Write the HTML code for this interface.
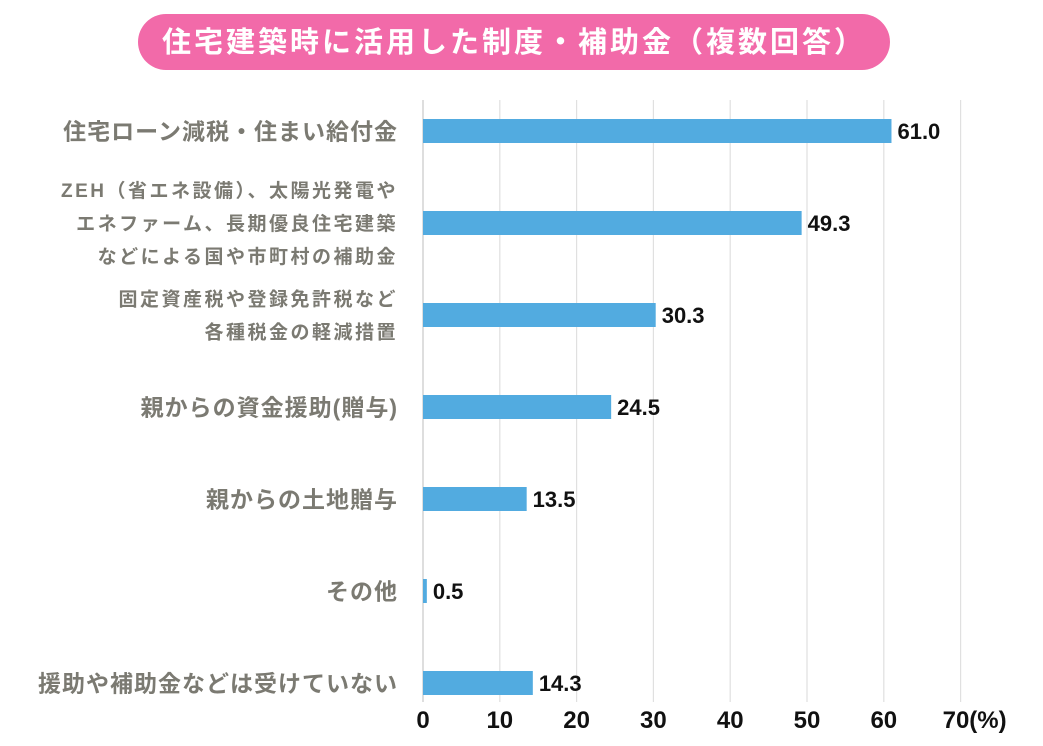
<!DOCTYPE html>
<html><head><meta charset="utf-8"><style>
body{margin:0;width:1043px;height:741px;background:#fff;overflow:hidden;font-family:"Liberation Sans","Noto Sans CJK JP",sans-serif;}
</style></head><body>
<svg width="1043" height="741" xmlns="http://www.w3.org/2000/svg">
<rect x="138" y="14" width="752" height="56" rx="28" fill="#f26aa9"/>
<text x="514" y="52" text-anchor="middle" font-size="29" letter-spacing="3" font-weight="bold" fill="#fff" font-family="Liberation Sans,Noto Sans CJK JP,sans-serif">住宅建築時に活用した制度・補助金（複数回答）</text>
<g id="grid"></g><g id="bars"></g><g id="labels"></g><g id="ticks"></g>
</svg>
<script>
const categories=[["住宅ローン減税・住まい給付金"],["ZEH（省エネ設備）、太陽光発電や","エネファーム、長期優良住宅建築","などによる国や市町村の補助金"],["固定資産税や登録免許税など","各種税金の軽減措置"],["親からの資金援助(贈与)"],["親からの土地贈与"],["その他"],["援助や補助金などは受けていない"]];
const values=[61.0,49.3,30.3,24.5,13.5,0.5,14.3];
const tickValues=[0,10,20,30,40,50,60,70];
const tickLabels=["0","10","20","30","40","50","60","70(%)"];
const NS="http://www.w3.org/2000/svg";
const x=v=>423+v*7.68;
const y=i=>131+i*92;
function mk(t,a,parent){const e=document.createElementNS(NS,t);for(const k in a)e.setAttribute(k,a[k]);document.getElementById(parent).appendChild(e);return e;}
tickValues.forEach((v,i)=>{
 const g=mk('line',{x1:x(v),x2:x(v),y1:100,y2:702,stroke:i==0?'#c8c8c8':'#e0e0e0','stroke-width':1.2},'grid');
 
 
 const t=mk('text',{x:i==7?x(v)-18:x(v),y:728,'text-anchor':i==7?'start':'middle','font-size':24,'font-weight':'bold',fill:'#111'},'ticks');
 t.textContent=tickLabels[i];
 
 
});
values.forEach((v,i)=>{
 const b=mk('rect',{x:x(0),y:y(i)-12,width:Math.max(x(v)-x(0),3),height:24,fill:'#52abe0'},'bars');
 
 
 const t=mk('text',{x:x(v)+6,y:y(i)+8,'font-size':22,'font-weight':'bold',fill:'#111'},'bars');
 t.textContent=v.toFixed(1);
 
 
 const lines=categories[i];const multi=lines.length>1;const lh=multi?33:0;const fs=multi?19:23;const ls=multi?2.5:1.0;
 lines.forEach((s,j)=>{
  const l=mk('text',{x:398,y:y(i)+(j-(lines.length-1)/2)*lh+fs*0.36,'text-anchor':'end','font-size':fs,'letter-spacing':ls,'font-weight':'bold',fill:'#7b7a72'},'labels');
  l.textContent=s;
  
  
 });
});
</script>
</body></html>
